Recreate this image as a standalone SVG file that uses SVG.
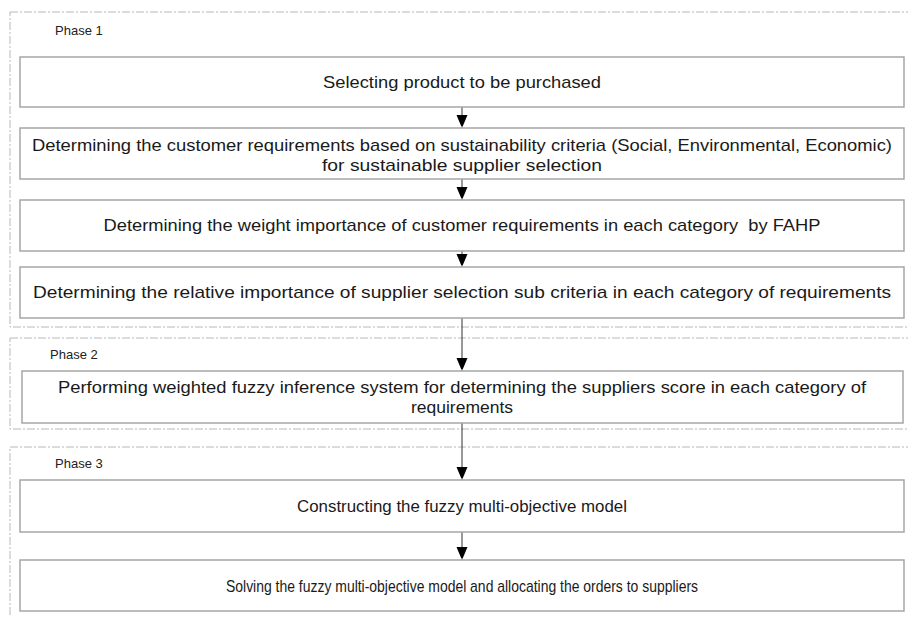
<svg xmlns="http://www.w3.org/2000/svg" width="908" height="617" viewBox="0 0 908 617">
<style>
.phase{fill:none;stroke:#b8b8b8;stroke-width:1;stroke-dasharray:8 2 2 2}
.box rect{fill:#fff;stroke:#a6a6a6;stroke-width:1.5}
.t{font-family:"Liberation Sans",Arial,sans-serif;font-size:17px;fill:#1a1a1a;text-anchor:middle}
.n{font-size:17px}
.pl{font-family:"Liberation Sans",Arial,sans-serif;font-size:13px;fill:#222}
.conn line{stroke:#333;stroke-width:1}
</style>
<defs>
<marker id="ah" markerWidth="11" markerHeight="13" refX="13" refY="5.5" orient="auto" markerUnits="userSpaceOnUse">
<path d="M0,0 L13,5.5 L0,11 Z" fill="#000"/>
</marker>
</defs>
<rect width="908" height="617" fill="#fff"/>
<g id="phase1"><rect class="phase" x="10" y="12" width="905" height="315"/><text class="pl" x="55" y="35">Phase 1</text></g>
<g id="phase2"><rect class="phase" x="10" y="338" width="905" height="91"/><text class="pl" x="50" y="359">Phase 2</text></g>
<g id="phase3"><rect class="phase" x="10" y="447" width="905" height="180"/><text class="pl" x="55" y="468">Phase 3</text></g>
<g class="conn" id="connectors">
<line x1="462" y1="107" x2="462" y2="128" marker-end="url(#ah)"/>
<line x1="462" y1="179" x2="462" y2="200" marker-end="url(#ah)"/>
<line x1="462" y1="251" x2="462" y2="267" marker-end="url(#ah)"/>
<line x1="462" y1="318" x2="462" y2="371" marker-end="url(#ah)"/>
<line x1="462" y1="423" x2="462" y2="480" marker-end="url(#ah)"/>
<line x1="462" y1="532" x2="462" y2="560" marker-end="url(#ah)"/>
</g>
<g class="box" id="n1"><rect x="20" y="57" width="884" height="50"/><text class="t" x="462" y="88" textLength="278" lengthAdjust="spacingAndGlyphs">Selecting product to be purchased</text></g>
<g class="box" id="n2"><rect x="20" y="128" width="884" height="51"/><text class="t" x="462" y="151" textLength="860" lengthAdjust="spacingAndGlyphs">Determining the customer requirements based on sustainability criteria (Social, Environmental, Economic)</text><text class="t" x="462" y="171" textLength="280" lengthAdjust="spacingAndGlyphs">for sustainable supplier selection</text></g>
<g class="box" id="n3"><rect x="20" y="200" width="884" height="51"/><text class="t" x="462" y="231" textLength="717" lengthAdjust="spacingAndGlyphs" xml:space="preserve">Determining the weight importance of customer requirements in each category  by FAHP</text></g>
<g class="box" id="n4"><rect x="20" y="267" width="884" height="51"/><text class="t" x="462" y="298" textLength="858" lengthAdjust="spacingAndGlyphs">Determining the relative importance of supplier selection sub criteria in each category of requirements</text></g>
<g class="box" id="n5"><rect x="22" y="371" width="881" height="52"/><text class="t" x="462" y="393" textLength="808" lengthAdjust="spacingAndGlyphs">Performing weighted fuzzy inference system for determining the suppliers score in each category of</text><text class="t" x="462" y="413" textLength="102" lengthAdjust="spacingAndGlyphs">requirements</text></g>
<g class="box" id="n6"><rect x="20" y="480" width="884" height="52"/><text class="t n" x="462" y="512" textLength="330" lengthAdjust="spacingAndGlyphs">Constructing the fuzzy multi-objective model</text></g>
<g class="box" id="n7"><rect x="20" y="560" width="884" height="51"/><text class="t n" x="462" y="592" textLength="472" lengthAdjust="spacingAndGlyphs">Solving the fuzzy multi-objective model and allocating the orders to suppliers</text></g>
</svg>
